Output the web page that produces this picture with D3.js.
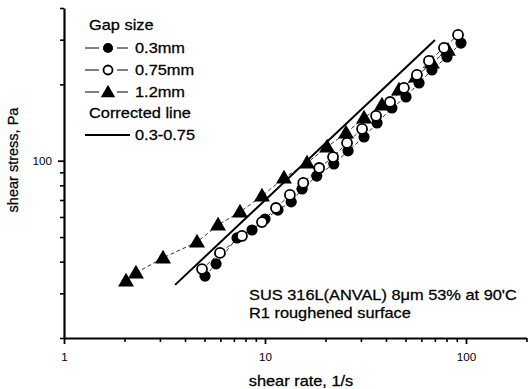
<!DOCTYPE html>
<html>
<head>
<meta charset="utf-8">
<script src="https://cdn.jsdelivr.net/npm/d3@7"></script>
<style>
  html, body { margin: 0; padding: 0; background: #fff; }
  svg { display: block; }
  text { font-family: "Liberation Sans", Arial, sans-serif; fill: #000; }
</style>
</head>
<body>
<svg id="chart" width="528" height="389"></svg>
<script>
// Shear rate (1/s) and shear stress (Pa) for each gap size
const rate03   = [5.03, 5.71, 7.26, 8.62, 10.0, 11.6, 13.5, 15.3, 18.1, 22.0, 25.9, 31.1, 36.1, 42.8, 50.3, 58.4, 67.7, 80.4, 94.4];
const stress03 = [35.1, 39.2, 49.6, 53.3, 58.9, 63.9, 68.8, 77.4, 87.0, 97.1, 109.3, 124.1, 140.8, 161.4, 178.4, 202.6, 228, 256.5, 291];

const rate075   = [4.86, 5.97, 7.68, 9.66, 11.34, 13.3, 15.5, 18.6, 21.8, 25.6, 30.4, 35.7, 41.9, 49.1, 57.0, 65.4, 77.7, 91.3];
const stress075 = [37.4, 43.3, 50.5, 57.3, 65.1, 73.3, 81.7, 93.6, 103.4, 117.5, 133.4, 150.1, 170.4, 193.6, 217.8, 247.4, 278.4, 313.2];

const rate12   = [2.035, 2.28, 3.11, 4.59, 5.84, 7.51, 9.66, 12.43, 16.18, 20.35, 25.3, 31.1, 38.2, 46.4, 56.4, 67.7, 81.3];
const stress12 = [33.6, 36.1, 41.4, 47.8, 55.8, 62.8, 72.6, 85.5, 98.0, 113.3, 128.6, 147.4, 165.9, 190, 214, 243, 273];

// Corrected line (0.3-0.75) end points
const correctedRate   = [3.57, 70.1];
const correctedStress = [32.4, 299.2];

const xTickValues = [1, 10, 100];
const xTickLabels = ["1", "10", "100"];
const yTickValues = [100];
const yTickLabels = ["100"];
const xMinorTicks = [2, 3, 4, 5, 6, 7, 8, 9, 20, 30, 40, 50, 60, 70, 80, 90, 200];
const yMinorTicks = [20, 30, 40, 50, 60, 70, 80, 90, 200, 300, 400];

const legendTitle = "Gap size";
const seriesNames = ["0.3mm", "0.75mm", "1.2mm"];
const correctedTitle = "Corrected line";
const correctedName = "0.3-0.75";
const noteLines = ["SUS 316L(ANVAL) 8\u03BCm 53% at 90'C", "R1 roughened surface"];
const xTitle = "shear rate, 1/s";
const yTitle = "shear stress, Pa";

const toPoints = (xs, ys) => xs.map((v, i) => ({ x: v, y: ys[i] }));
const series = [
  { name: seriesNames[0], pts: toPoints(rate03, stress03), shape: "filled" },
  { name: seriesNames[1], pts: toPoints(rate075, stress075), shape: "open" },
  { name: seriesNames[2], pts: toPoints(rate12, stress12), shape: "tri" }
];

const svg = d3.select("#chart");
const SX = 1.17; // horizontal text stretch

const x = d3.scaleLog().domain([1, 200]).range([64, 526.5]);
const y = d3.scaleLog().domain([20, 400]).range([338, 8]);

function stretchedText(g, tx, ty, str, size, anchor) {
  return g.append("text")
    .attr("transform", `translate(${tx},${ty}) scale(${SX},1)`)
    .attr("font-size", size)
    .attr("text-anchor", anchor || "start")
    .attr("stroke", "#000").attr("stroke-width", 0.25)
    .text(str);
}

// marker drawing; scale k shrinks the legend markers slightly
function drawMarker(g, shape, cx, cy, k) {
  k = k || 1;
  if (shape === "tri") {
    const sym = d3.symbol().type(d3.symbolTriangle).size(110 * k * k);
    g.append("path").attr("d", sym()).attr("transform", `translate(${cx},${cy + 1})`)
      .attr("fill", "#000");
  } else if (shape === "filled") {
    g.append("circle").attr("cx", cx).attr("cy", cy).attr("r", 5.6 * k).attr("fill", "#000");
  } else {
    g.append("circle").attr("cx", cx).attr("cy", cy).attr("r", 5 * k)
      .attr("fill", "#fff").attr("stroke", "#000").attr("stroke-width", 1.8);
  }
}

// connecting dashed lines
const line = d3.line().x(d => x(d.x)).y(d => y(d.y));
const plot = svg.append("g");
series.forEach(s => {
  plot.append("path").datum(s.pts).attr("d", line)
    .attr("fill", "none").attr("stroke", "#000")
    .attr("stroke-width", 0.8).attr("stroke-dasharray", "4,2.5");
});

// corrected line
plot.append("path").datum(toPoints(correctedRate, correctedStress)).attr("d", line)
  .attr("fill", "none").attr("stroke", "#000").attr("stroke-width", 2);

// markers: triangles first, then filled, then open circles on top
["tri", "filled", "open"].forEach(shape => {
  const s = series.find(d => d.shape === shape);
  const g = plot.append("g");
  s.pts.forEach(p => drawMarker(g, shape, x(p.x), y(p.y)));
});

// axes
const axisG = svg.append("g");
const xAxis = d3.axisBottom(x).tickValues(xTickValues)
  .tickFormat((d, i) => xTickLabels[i]).tickSize(6).tickSizeOuter(0);
const xg = axisG.append("g").attr("transform", "translate(0,338)").call(xAxis);
xg.select(".domain").attr("stroke-width", 2.2);
xg.selectAll(".tick line").attr("stroke-width", 1.8);
xg.selectAll(".tick text").attr("font-size", 10).attr("y", 0)
  .attr("dy", 0).attr("transform", `translate(0,23) scale(${SX},1)`)
  .attr("font-family", "Liberation Sans, Arial, sans-serif");

const xMinor = d3.axisBottom(x).tickValues(xMinorTicks).tickFormat("").tickSize(4).tickSizeOuter(0);
const xmg = axisG.append("g").attr("transform", "translate(0,338)").call(xMinor);
xmg.select(".domain").remove();
xmg.selectAll(".tick line").attr("stroke-width", 1.6);

const yAxis = d3.axisLeft(y).tickValues(yTickValues)
  .tickFormat((d, i) => yTickLabels[i]).tickSize(6).tickSizeOuter(0);
const yg = axisG.append("g").attr("transform", "translate(64,0)").call(yAxis);
yg.select(".domain").attr("stroke-width", 2.2);
yg.selectAll(".tick line").attr("stroke-width", 1.8);
yg.selectAll(".tick text").attr("font-size", 10).attr("x", 0).attr("dy", 0)
  .attr("transform", `translate(-12,4) scale(${SX},1)`)
  .attr("font-family", "Liberation Sans, Arial, sans-serif");

const yMinor = d3.axisLeft(y).tickValues(yMinorTicks).tickFormat("").tickSize(4).tickSizeOuter(0);
const ymg = axisG.append("g").attr("transform", "translate(64,0)").call(yMinor);
ymg.select(".domain").remove();
ymg.selectAll(".tick line").attr("stroke-width", 1.6);

// axis titles
stretchedText(svg, 301, 386, xTitle, 14, "middle");
svg.append("text")
  .attr("transform", "translate(18,160) rotate(-90)")
  .attr("font-size", 14.5).attr("text-anchor", "middle")
  .attr("stroke", "#000").attr("stroke-width", 0.25).text(yTitle);

// legend
const leg = svg.append("g");
stretchedText(leg, 89, 30, legendTitle, 14);
const legRows = [48, 70, 92];
series.forEach((s, i) => {
  const ly = legRows[i];
  leg.append("line").attr("x1", 85).attr("x2", 99).attr("y1", ly).attr("y2", ly)
    .attr("stroke", "#000").attr("stroke-width", 1);
  leg.append("line").attr("x1", 117).attr("x2", 128).attr("y1", ly).attr("y2", ly)
    .attr("stroke", "#000").attr("stroke-width", 1);
  drawMarker(leg, s.shape, 108, ly, 0.9);
  stretchedText(leg, 135, ly + 5, s.name, 14);
});
stretchedText(leg, 89, 118, correctedTitle, 14);
leg.append("line").attr("x1", 85).attr("x2", 130).attr("y1", 135).attr("y2", 135)
  .attr("stroke", "#000").attr("stroke-width", 2);
stretchedText(leg, 135, 140, correctedName, 14);

// sample note
noteLines.forEach((t, i) => stretchedText(svg, 249, 300 + i * 18, t, 14));
</script>
</body>
</html>
